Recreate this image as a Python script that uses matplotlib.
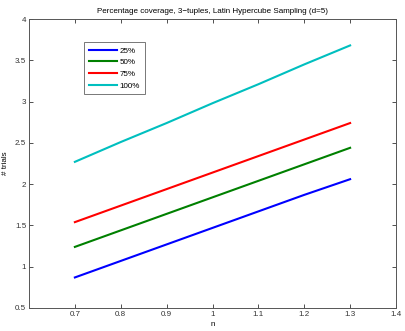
import matplotlib
matplotlib.use("Agg")
import matplotlib.pyplot as plt

plt.rcParams['font.family'] = ['Liberation Sans', 'DejaVu Sans']

n = [0.7, 0.8, 0.9, 1.0, 1.1, 1.2, 1.3]
labels = ['25%', '50%', '75%', '100%']
trials_25 = [0.87, 1.07, 1.27, 1.47, 1.67, 1.87, 2.06]
trials_50 = [1.24, 1.44, 1.64, 1.84, 2.04, 2.24, 2.44]
trials_75 = [1.54, 1.74, 1.94, 2.14, 2.34, 2.54, 2.74]
trials_100 = [2.27, 2.51, 2.74, 2.98, 3.21, 3.45, 3.68]
series = [trials_25, trials_50, trials_75, trials_100]
colors = ['#0000ff', '#008000', '#ff0000', '#00bfbf']

xticks = [0.7, 0.8, 0.9, 1.0, 1.1, 1.2, 1.3, 1.4]
xticklabels = ['0.7', '0.8', '0.9', '1', '1.1', '1.2', '1.3', '1.4']
yticks = [0.5, 1, 1.5, 2, 2.5, 3, 3.5, 4]
yticklabels = ['0.5', '1', '1.5', '2', '2.5', '3', '3.5', '4']

fig = plt.figure(figsize=(4.05, 3.31), dpi=100)
ax = fig.add_axes([29/405, 1-308/331, (396-29)/405, (308-19)/331])

for ys, c, lab in zip(series, colors, labels):
    ax.plot(n, ys, color=c, lw=1.5, label=lab)

ax.set_xlim(0.6, 1.4)
ax.set_ylim(0.5, 4)
ax.set_xticks(xticks)
ax.set_xticklabels(xticklabels)
ax.set_yticks(yticks)
ax.set_yticklabels(yticklabels)
ax.tick_params(direction='in', top=True, right=True, labelsize=5.8, length=3, width=0.6, colors='#333333', pad=2)
for s in ax.spines.values():
    s.set_color('#555555')
    s.set_linewidth(0.7)

ax.set_title('Percentage coverage, 3\u2212tuples, Latin Hypercube Sampling (d=5)', fontsize=5.8, pad=4)
ax.set_xlabel('n', fontsize=5.8, labelpad=2)
ax.set_ylabel('# trials', fontsize=5.8, labelpad=4)

leg = ax.legend(loc='upper left', bbox_to_anchor=(0.15, 0.92), borderaxespad=0, fontsize=5.8, frameon=True,
                fancybox=False, edgecolor='#555555', handlelength=3.5, handletextpad=0.3, borderpad=0.6,
                labelspacing=0.5)
leg.get_frame().set_linewidth(0.7)

fig.savefig('out.png', dpi=100)
